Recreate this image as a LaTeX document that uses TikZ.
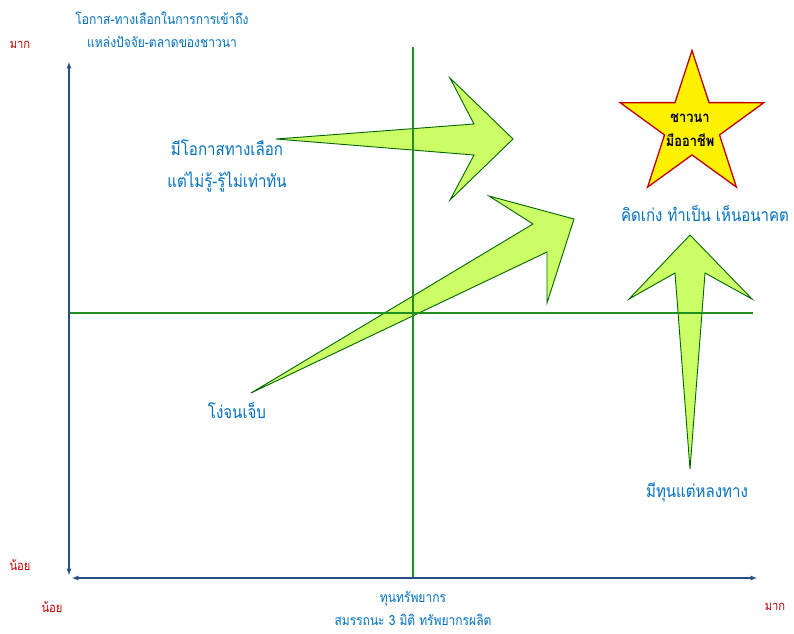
\documentclass[tikz,border=0pt]{standalone}
\usepackage{tikz, xcolor}
\usepackage{fontspec}
\newfontfamily\thaifont[Script=Thai,FakeStretch=0.86]{Loma}
\usetikzlibrary{shapes,arrows}
\definecolor{txtblue}{HTML}{0070C0}
\definecolor{txtred}{HTML}{C00000}
\definecolor{axblue}{HTML}{2A4D86}
\definecolor{lnGreen}{HTML}{1F8F1F}
\definecolor{arrFill}{HTML}{CCFF66}
\definecolor{arrDraw}{HTML}{006600}

\begin{document}
\begin{tikzpicture}[x=1pt, y=-1pt]
\tikzstyle{axisline}=[axblue, line width=1.2pt, <->, >=latex]
\tikzstyle{gridline}=[lnGreen, line width=1.1pt]
\tikzstyle{bigarrow}=[fill=arrFill, draw=arrDraw, line width=0.9pt, line join=miter]
\tikzstyle{lblb}=[text=txtblue, align=center, inner sep=0pt, font=\thaifont\fontsize{14}{23}\selectfont]
\tikzstyle{lblbig}=[text=txtblue, align=center, inner sep=0pt, font=\thaifont\fontsize{17.5}{32}\selectfont]
\tikzstyle{lblr}=[text=txtred, inner sep=0pt, font=\thaifont\fontsize{13}{13}\selectfont]
\tikzstyle{starbox}=[star, star points=5, star point ratio=2.61, minimum size=151pt, inner sep=0pt, fill=yellow, draw=txtred, line width=1.3pt]

\useasboundingbox (0,0) rectangle (794,633);

\draw[bigarrow] (276,139) -- (474,124) -- (450,78) -- (513,139) -- (450,200) -- (474,155) -- cycle;
\draw[bigarrow] (251,393) -- (533,224) -- (489,196) -- (574,219) -- (547,303) -- (547,252) -- cycle;
\draw[bigarrow] (690,469) -- (675,273) -- (629,299) -- (690,235) -- (752,299) -- (705,273) -- cycle;

\coordinate (Yt) at (69,62);
\coordinate (Yb) at (69,575);
\coordinate (Xl) at (72,578);
\coordinate (Xr) at (757,578);
\coordinate (Vt) at (413,47);
\coordinate (Vb) at (413,578);
\coordinate (Hl) at (69,313);
\coordinate (Hr) at (753,313);
\draw[gridline] (Vt) -- (Vb);
\draw[gridline] (Hl) -- (Hr);
\draw[axisline] (Yb) -- (Yt);
\draw[axisline] (Xl) -- (Xr);

\node[starbox] (star) at (692,126) {};
\node[inner sep=0pt, align=center, font=\thaifont\bfseries\fontsize{15}{24}\selectfont] (starT) at (690,130) {ชาวนา\\มืออาชีพ};

\node[lblr] (ymax) at (20,45) {มาก};
\node[lblr] (ymin) at (20,565) {น้อย};
\node[lblr] (xmin) at (52,607) {น้อย};
\node[lblr] (xmax) at (775,607) {มาก};
\node[lblb] (ytitle) at (162,30) {โอกาส-ทางเลือกในการการเข้าถึง\\แหล่งปัจจัย-ตลาดของชาวนา};
\node[lblb] (xtitle) at (413,608) {ทุนทรัพยากร\\สมรรถนะ 3 มิติ ทรัพยากรผลิต};
\node[lblbig] (q1) at (227,166) {มีโอกาสทางเลือก\\แต่ไม่รู้-รู้ไม่เท่าทัน};
\node[lblbig] (q2) at (237,410) {โง่จนเจ็บ};
\node[lblbig] (q3) at (697,492) {มีทุนแต่หลงทาง};
\node[lblbig] (q4) at (705,213) {คิดเก่ง ทำเป็น เห็นอนาคต};
\end{tikzpicture}
\end{document}
